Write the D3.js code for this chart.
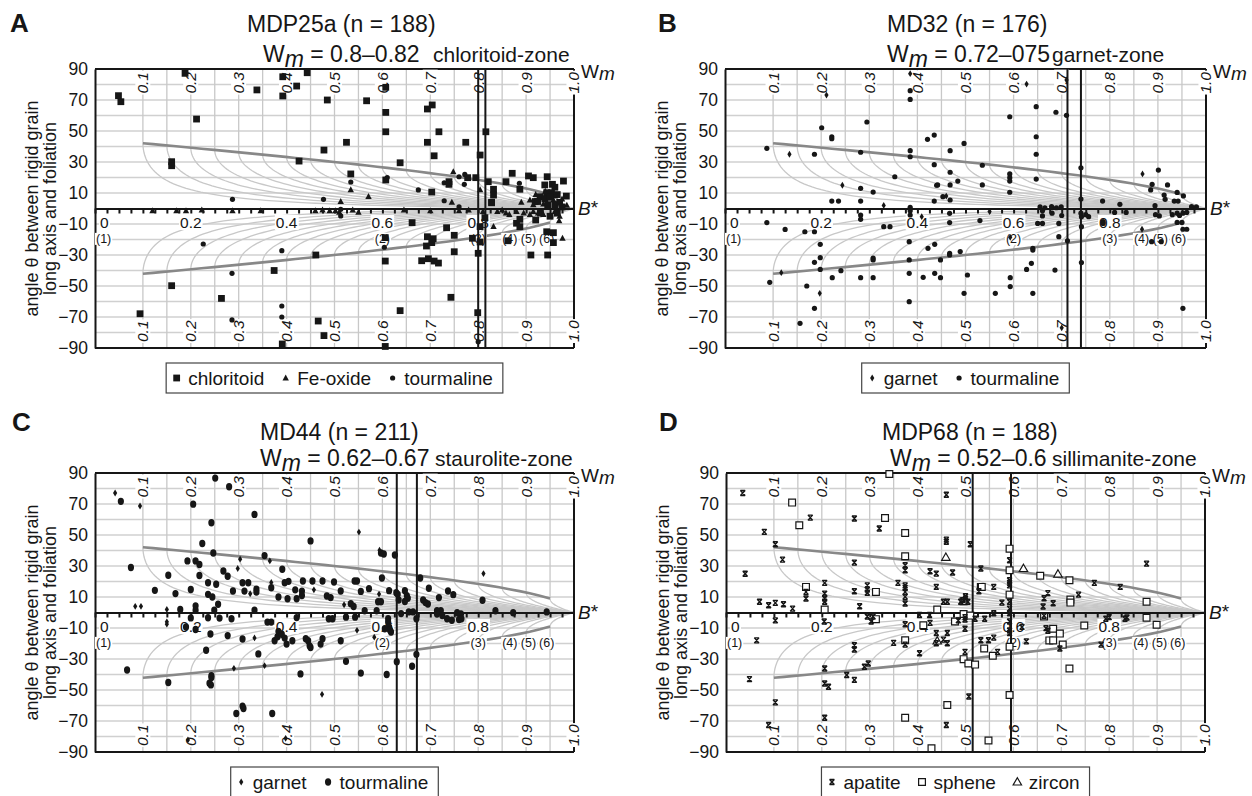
<!DOCTYPE html>
<html>
<head>
<meta charset="utf-8">
<script src="https://cdn.jsdelivr.net/npm/d3@7"></script>
<style>
  body { margin: 0; background: #fff; }
  svg { display: block; font-family: "Liberation Sans", Arial, Helvetica, sans-serif; }
</style>
</head>
<body>
<svg id="chart" width="1252" height="796"></svg>
<script>
// ---- net / axis values ----
const wmCurves = [0.1, 0.15, 0.2, 0.25, 0.3, 0.35, 0.4, 0.45, 0.5, 0.55, 0.6, 0.65, 0.7, 0.75, 0.8, 0.85, 0.9, 0.95];
const wmLabels = [0.1, 0.2, 0.3, 0.4, 0.5, 0.6, 0.7, 0.8, 0.9, 1.0];
const thetaTicks = [90, 70, 50, 30, 10, -10, -30, -50, -70, -90];
const bStarTicks = [0, 0.2, 0.4, 0.6, 0.8];
const aspectLabels = ["(1)", "(2)", "(3)", "(4)", "(5)", "(6)"];
const aspectPos = [0, 0.6, 0.8, 0.866, 0.905, 0.943];

// ---- panel texts ----
const panelLetters = ["A", "B", "C", "D"];
const sampleNames = ["MDP25a", "MD32", "MD44", "MDP68"];
const sampleN = [188, 176, 211, 188];
const wmText = ["0.8–0.82", "0.72–075", "0.62–0.67", "0.52–0.6"];
const zoneNames = ["chloritoid-zone", "garnet-zone", "staurolite-zone", "sillimanite-zone"];
const wmRanges = [[0.8, 0.815], [0.712, 0.74], [0.63, 0.672], [0.515, 0.595]];

// ---- data: [B*, theta] ----
const chloritoidA = [[0.049,72.8],[0.054,68.9],[0.188,87.2],[0.212,57.7],[0.160,30.2],[0.160,27.6],[0.338,76.5],[0.392,85],[0.392,72.6],[0.421,79],[0.443,87.6],[0.426,30.6],
  [0.485,70],[0.567,69.5],[0.607,78.2],[0.607,62],[0.607,49.5],[0.525,42.7],[0.478,37.7],[0.534,22.3],[0.607,18.4],[0.694,64.2],[0.704,66.8],[0.718,49.5],[0.694,42.7],[0.708,34],[0.774,42.7],[0.637,29.5],[0.816,49.5],[0.804,34.5],[0.739,17.3],[0.739,15.6],[0.778,19.9],[0.795,19.9],[0.703,10.6],[0.821,17.3],[0.832,12.4],[0.832,8.7],[0.858,17.3],[0.828,4],[0.871,22.7],[0.887,12.4],[0.905,21],[0.915,19.9],[0.944,20.5],[0.978,17.7],[0.939,15.2],[0.955,15.6],[0.960,13.7],[0.943,10.2],[0.953,10.2],[0.965,9],[0.984,8],[0.929,7.6],[0.939,6.3],[0.950,7.2],[0.919,4.5],[0.924,4.5],[0.945,2.5],[0.96,2.5],[0.97,4],[0.975,1],
  [0.094,-67.9],[0.160,-49.8],[0.264,-58],[0.374,-40],[0.461,-30],[0.466,-72.6],[0.478,-82],[0.391,-87.4],[0.606,-33.9],[0.606,-18.8],[0.606,-89],[0.637,-65.9],[0.662,-9.1],[0.734,-12.4],[0.75,-17.3],[0.694,-18.2],[0.706,-19.5],[0.703,-22],[0.692,-24.2],[0.75,-27.9],[0.682,-33.7],[0.696,-32.4],[0.708,-33.9],[0.717,-35.2],[0.743,-57.3],[0.799,-67.2],[0.8,-28.9],[0.804,-21.6],[0.788,-19.2],[0.804,-11.7],[0.814,-5.9],[0.828,3.7],[0.880,-9.5],[0.887,-11.7],[0.887,-7],[0.862,-20.8],[0.92,-7.4],[0.91,-30],[0.945,-30],[0.957,-22],[0.957,-15.6],[0.943,-15],[0.93,-3],[0.95,-5],[0.965,-3]];
const feOxideA = [[0.748,23.7],[0.534,12],[0.571,7.6],[0.513,4.4],[0.804,12],[0.908,5.5],[0.957,5.5],[0.974,2.9],[0.936,2.9],[0.915,2.3],
  [0.12,-1.5],[0.17,-1.5],[0.19,-1.5],[0.223,-1],[0.287,-1.5],[0.346,-1.5],[0.46,-1.5],[0.475,-1],[0.49,-1.5],[0.502,-1.5],[0.51,-2.5],[0.538,-1],[0.55,-2.5],[0.645,-1],[0.70,-1.5],[0.76,-1.5],[0.78,-1],[0.81,-2],[0.84,-2],[0.85,-1],[0.858,-3],[0.865,-4],[0.88,-2],[0.895,-3],[0.908,-4],[0.915,-2],[0.925,-3],[0.936,-4],[0.950,-4.8],[0.96,-2],[0.97,-5],
  [0.832,-11.7],[0.976,-19.2],[0.969,-8],[0.94,11],[0.96,8],[0.975,6],[0.985,2],[0.89,4],[0.745,4],[0.92,9]];
const tourmalineA = [[0.760,20.5],[0.772,22],[0.729,16.6],[0.771,15.6],[0.534,17.1],[0.675,12],[0.477,5.9],[0.729,5],[0.886,16.3],[0.513,-0.5],[0.287,5.9],[0.61,20],
  [0.226,-22.9],[0.39,-27.2],[0.286,-41.8],[0.39,-62.9],[0.39,-70],[0.286,-71.9],[0.604,-25],[0.513,-4.8],[0.8,-86],[0.76,1]];

const garnetB = [[0.134,35],[0.211,73.2],[0.244,15],[0.385,87],[0.409,-5.3],[0.282,-5.3],[0.627,80.3],[0.710,82.9],[0.868,22.3],[0.117,-41.4],[0.197,-54.7],[0.593,-18.6],[0.867,-13.4],[0.700,-77],[0.46,8],[0.55,-2],[0.33,2]];
const tourmalineB = [[0.087,38.8],[0.186,35],[0.201,52.1],[0.222,46.3],[0.222,45],[0.295,55.8],[0.282,36.3],[0.385,76],[0.385,70.4],[0.385,37.3],[0.385,33.4],[0.421,44.6],[0.435,47.4],[0.435,28.3],[0.353,20.5],[0.282,13],[0.282,4.8],[0.308,10.6],[0.222,4.8],[0.236,4.8],[0.44,15],[0.435,4.8],[0.385,0.8],[0.385,-1.4],[0.385,-4.2],
  [0.592,59.2],[0.647,65.7],[0.647,46.3],[0.647,35],[0.647,19],[0.688,62.1],[0.710,60.1],[0.497,42],[0.468,37.3],[0.468,23.4],[0.535,27.9],[0.484,17.7],[0.468,15.2],[0.442,15.2],[0.535,15.2],[0.592,22.3],[0.592,19.9],[0.592,17.7],[0.592,10.5],[0.453,7.6],[0.468,5.5],[0.740,26.3],[0.740,6.1],[0.785,4.8],[0.821,2.7],[0.901,24.8],[0.888,15.6],[0.885,12],[0.920,15.2],[0.913,8.7],[0.915,5.9],[0.940,10.4],[0.953,8.1],[0.934,4.8],[0.942,4.8],[0.894,1.8],[0.97,1.2],[0.98,1],[0.655,1],[0.665,0.5],[0.679,1.2],[0.689,0.5],[0.699,1],
  [0.087,-9.1],[0.125,-13.5],[0.166,-15],[0.186,-15],[0.198,-23.1],[0.198,-31.7],[0.186,-34.7],[0.198,-39.3],[0.170,-50],[0.186,-64.4],[0.156,-74.1],[0.093,-47.6],[0.223,-44.6],[0.241,-40.1],[0.282,-44.6],[0.308,-44.6],[0.308,-33.2],[0.308,-32],[0.282,-7],[0.282,-4.2],[0.33,-11.7],[0.343,-11.7],[0.383,-21.4],[0.383,-33.2],[0.383,-41.8],[0.383,-60.1],[0.412,-44.4],[0.422,-25.7],[0.436,-23.1],[0.448,-33.2],[0.448,-44.6],[0.436,-41.8],[0.467,-28.9],[0.467,-30],[0.489,-27.8],[0.467,-3.1],[0.467,-9.1],[0.504,-42.9],[0.497,-54.7],[0.53,-7.8],[0.562,-54.7],[0.593,-44.6],[0.593,-50.4],[0.64,-25.7],[0.64,-26.8],[0.637,-35.4],[0.627,-39.3],[0.64,-54.7],[0.65,-9.6],[0.66,-9.6],[0.66,-4.8],[0.686,-39.7],[0.694,-9.6],[0.694,-18.2],[0.712,-20.8],[0.741,-34.9],[0.741,-5.3],[0.741,-11.7],[0.756,-5.3],[0.786,-8.5],[0.786,-9.6],[0.81,-2.5],[0.834,-2.5],[0.887,-21.4],[0.907,-21.4],[0.903,-4.8],[0.93,-4],[0.94,-3],[0.952,-3],[0.96,-2.5],[0.94,-9],[0.95,-9],[0.952,-13.4],[0.96,-13.4],[0.952,-64.4],[0.66,-1.5],[0.68,-3],[0.70,-4.5],[0.74,-3],[0.75,-4],[0.895,-4],[0.945,-4.5]];

const garnetC = [[0.042,77.1],[0.094,68.7],[0.084,4],[0.096,4],[0.15,2],[0.15,-6],[0.15,-7.5],[0.303,34.4],[0.298,28.4],[0.324,12.1],[0.365,33.3],[0.368,19.4],[0.457,14.6],[0.551,51.9],[0.594,40.2],[0.593,11.9],[0.811,25.1],[0.333,-16.4],[0.354,-34.3],[0.474,-52.8],[0.547,-11.5],[0.583,-15.9],[0.194,-82.2],[0.398,-81.2],[0.29,-36],[0.52,5]];
const tourmalineC = [[0.054,71.7],[0.075,29],[0.125,14.3],[0.153,24],[0.168,12.2],[0.178,2],[0.205,69.9],[0.193,33.3],[0.21,33.3],[0.218,31],[0.2,14.8],[0.21,4.3],[0.21,1.5],[0.224,44.5],[0.218,23.9],[0.236,19.2],[0.236,11.7],[0.245,10],[0.243,57.9],[0.247,38.4],[0.251,86.7],[0.253,18.2],[0.257,5.3],[0.249,1.5],[0.268,26.8],[0.277,23.4],[0.28,81.1],[0.288,13.9],[0.308,19.2],[0.32,19.2],[0.312,13.8],[0.333,63.3],[0.337,15.1],[0.337,13.2],[0.333,1.5],[0.354,36.7],[0.368,16],[0.383,10],[0.391,27.9],[0.396,19.2],[0.404,20.1],[0.402,8.9],[0.418,14.6],[0.432,13.8],[0.432,11],[0.421,8.9],[0.45,46.2],[0.454,20.3],[0.434,20.3],[0.475,20.3],[0.499,19.7],[0.484,10.6],[0.492,9.6],[0.513,13.9],[0.534,5.6],[0.54,3.9],[0.542,20.3],[0.547,20.3],[0.555,13.6],[0.572,15.4],[0.563,1.1],[0.588,1.1],[0.597,38.4],[0.603,37.7],[0.599,22.3],[0.591,6.9],[0.597,6.9],[0.614,14.1],[0.626,37.1],[0.629,12.8],[0.632,11.7],[0.634,8.1],[0.647,14.1],[0.651,10.9],[0.653,9.2],[0.647,7.1],[0.655,0.4],[0.664,0.4],[0.639,-0.7],[0.679,22.3],[0.685,8.1],[0.69,6.4],[0.695,5.5],[0.697,15.6],[0.718,9.6],[0.722,1.1],[0.714,1.1],[0.737,13.9],[0.748,11.5],[0.756,-0.2],[0.764,-1],[0.809,7.9],[0.836,1.1],[0.873,-0.2],[0.943,0.4],
  [0.19,-9.4],[0.21,-11],[0.2,-3.5],[0.236,-3.4],[0.26,-3.6],[0.285,-4],[0.241,-13.9],[0.232,-24.4],[0.277,-14.9],[0.308,-17.1],[0.341,-26.7],[0.36,-6.2],[0.368,-6.2],[0.375,-18.2],[0.381,-15.6],[0.383,-12.3],[0.39,-14],[0.396,-16.5],[0.4,-20.4],[0.412,-18.2],[0.421,-3.3],[0.44,-16.9],[0.445,-18.2],[0.448,-21.5],[0.45,-22.6],[0.429,-39.6],[0.471,-20.4],[0.475,-16.9],[0.488,-4],[0.496,-4],[0.513,-18.2],[0.524,-31.5],[0.524,-3],[0.543,-3],[0.555,-39.1],[0.609,-40],[0.612,-4],[0.612,-6.2],[0.614,-9.4],[0.616,-11.5],[0.618,-12.6],[0.605,-10.5],[0.63,-31.7],[0.662,-34.7],[0.671,-27],[0.671,-4],[0.714,-1],[0.725,-2],[0.735,-4],[0.745,-5],[0.76,-4.5],[0.765,-4],
  [0.067,-37.1],[0.153,-45.2],[0.239,-45.6],[0.242,-46.7],[0.243,-40.7],[0.243,-42],[0.295,-65.2],[0.308,-60.4],[0.31,-61.9],[0.37,-65.2]];

const apatiteD = [[0.035,77.1],[0.04,25],[0.07,6.9],[0.089,4.7],[0.103,6.2],[0.12,5.3],[0.139,2.5],[0.08,52],[0.103,44],[0.118,34.1],[0.176,61.2],[0.167,13.3],[0.167,9],[0.206,19.1],[0.206,12.2],[0.206,9],[0.206,6.9],[0.268,60.6],[0.268,32.2],[0.268,13.7],[0.279,4],[0.295,17.5],[0.295,14.8],[0.295,12.7],[0.32,54.2],[0.359,19.1],[0.374,30.5],[0.374,27.3],[0.374,17.5],[0.374,15.9],[0.374,13.3],[0.374,10.1],[0.374,5.8],[0.426,26.6],[0.439,25.1],[0.439,16.5],[0.454,6.9],[0.462,6.9],[0.46,76],[0.46,47],[0.46,45.6],[0.473,25.8],[0.49,6.9],[0.495,8],[0.5,9],[0.5,10.5],[0.505,6.9],[0.51,44],[0.528,13.7],[0.532,28.4],[0.559,16.5],[0.576,6.4],[0.592,33.7],[0.592,20.8],[0.592,19.1],[0.592,17.5],[0.592,6.9],[0.672,12.5],[0.664,9.2],[0.662,3.9],[0.683,6],[0.736,11.5],[0.769,19.1],[0.823,16.5],[0.878,31.5],
  [0.103,-5.1],[0.064,-18],[0.049,-43],[0.103,-58],[0.089,-72.6],[0.205,-5.8],[0.206,-36.1],[0.206,-45.8],[0.214,-47.9],[0.206,-67.9],[0.268,-21.1],[0.268,-23.9],[0.252,-40.3],[0.268,-43.5],[0.289,-35],[0.297,-32.9],[0.295,-2.6],[0.303,-5.8],[0.307,-2.6],[0.35,-19.6],[0.374,-7.6],[0.374,-20.7],[0.404,-1.6],[0.425,-1.6],[0.404,-26.3],[0.426,-6.7],[0.439,-13.2],[0.439,-19.8],[0.454,-17.5],[0.462,-13.2],[0.462,-19.8],[0.46,-72.6],[0.485,-5.1],[0.499,-3],[0.499,-4.5],[0.499,-10.5],[0.499,-25.4],[0.507,-54.2],[0.52,-4],[0.54,-4],[0.532,-17.9],[0.548,-17.9],[0.559,-16.2],[0.567,-25.4],[0.559,-0.5],[0.592,2.5],[0.592,-0.5],[0.592,-5.8],[0.592,-11.6],[0.592,-13.3],[0.618,-9.3],[0.627,-18.6],[0.664,-2.1],[0.668,-10.1],[0.672,-11.8],[0.697,-23.2],[0.783,-20.7],[0.8,-3],[0.833,-4],[0.837,-3.2],[0.793,-4]];
const spheneD = [[0.138,70.9],[0.153,56.3],[0.167,16.5],[0.206,1.9],[0.313,13.3],[0.332,61],[0.341,89.4],[0.374,51.3],[0.374,36.3],[0.441,1.9],[0.496,7.3],[0.532,16.5],[0.534,16.5],[0.592,41.2],[0.592,27.3],[0.592,11.5],[0.656,23.7],[0.717,20.8],[0.719,8.4],[0.719,6.4],[0.878,6.9],
  [0.313,-4.3],[0.374,-17.9],[0.374,-67.9],[0.412,-8.2],[0.462,-59.7],[0.429,-87.6],[0.478,-5.8],[0.496,-30.1],[0.506,-32.9],[0.52,-33.6],[0.539,-23.2],[0.557,-27.9],[0.548,-82.6],[0.592,-22.1],[0.592,-53.2],[0.664,-2.6],[0.683,-10.5],[0.675,-18],[0.683,-18],[0.697,-13.6],[0.703,-20.7],[0.717,-36.1],[0.748,-8.4],[0.878,-3.4],[0.899,-7.9],[0.496,-1],[0.51,-2]];
const zirconD = [[0.459,35.6],[0.621,28.4],[0.693,24.8],[0.441,-18.4]];

// ---- panel layout ----
const panels = [
  { left: 95, top: 69, width: 479, letter: [10, 32], t1: [247, 32], t2: [263, 62], zoneX: 433, legendShift: 0,
    series: [{ data: tourmalineA, kind: "dot" }, { data: feOxideA, kind: "triangle" }, { data: chloritoidA, kind: "square" }],
    legend: [["square", "chloritoid"], ["triangle", "Fe-oxide"], ["dot", "tourmaline"]] },
  { left: 725, top: 69, width: 481, letter: [658, 32], t1: [887, 32], t2: [887, 62], zoneX: 1052, legendShift: 0,
    series: [{ data: tourmalineB, kind: "dot" }, { data: garnetB, kind: "diamond" }],
    legend: [["diamond", "garnet"], ["dot", "tourmaline"]] },
  { left: 95, top: 473, width: 479, letter: [12, 431], t1: [260, 440], t2: [260, 466], zoneX: 435, legendShift: 0,
    series: [{ data: tourmalineC, kind: "bigdot" }, { data: garnetC, kind: "diamond" }],
    legend: [["diamond", "garnet"], ["bigdot", "tourmaline"]] },
  { left: 726, top: 473, width: 479, letter: [659, 431], t1: [882, 440], t2: [890, 466], zoneX: 1052, legendShift: -10,
    series: [{ data: spheneD, kind: "opensquare" }, { data: zirconD, kind: "opentri" }, { data: apatiteD, kind: "hourglass" }],
    legend: [["hourglass", "apatite"], ["opensquare", "sphene"], ["opentri", "zircon"]] }
];
const plotHeight = 279;

const svg = d3.select("#chart");
const rad = Math.PI / 180;
const ink = "#161616";

// one Wm isoline of the rigid grain net (vertical part, then stable-angle curve)
function netCurve(wm, s) {
  const a = Math.acos(wm);
  const pts = [[wm, 90 * s]];
  for (let k = 0; k <= 60; k++) {
    const b = wm + (1 - wm) * (k / 60) ** 2;
    pts.push([b, s * (a - Math.acos(Math.min(1, wm / b))) / 2 / rad]);
  }
  return pts;
}
// envelope of maximum stable angles
function envelope(s) {
  return d3.range(0, 41).map(k => {
    const b = 0.1 + 0.85 * k / 40;
    return [b, s * Math.acos(b) / 2 / rad];
  });
}

function markerPath(kind) {
  switch (kind) {
    case "square": return "M-3.4,-3.4h6.8v6.8h-6.8Z";
    case "triangle": return "M0,-3.6L3.2,2.4H-3.2Z";
    case "dot": return "M0,-2.6A2.6,2.6 0 1 1 0,2.6A2.6,2.6 0 1 1 0,-2.6Z";
    case "bigdot": return "M0,-3.7A3.1,3.7 0 1 1 0,3.7A3.1,3.7 0 1 1 0,-3.7Z";
    case "diamond": return "M0,-3.4L2.1,0L0,3.4L-2.1,0Z";
    case "hourglass": return "M-2.3,-2.5H2.3L-2.3,2.5H2.3Z";
    case "opensquare": return "M-3.4,-3.4h6.8v6.8h-6.8Z";
    case "opentri": return "M0,-4.3L4.2,3H-4.2Z";
  }
}
function styleMarker(sel, kind) {
  if (kind === "hourglass") {
    sel.attr("fill", "none").attr("stroke", ink).attr("stroke-width", 1.4).attr("stroke-linejoin", "bevel");
  } else if (kind === "opensquare" || kind === "opentri") {
    sel.attr("fill", "#fff").attr("stroke", ink).attr("stroke-width", 1.2);
  } else {
    sel.attr("fill", ink).attr("stroke", "none");
  }
}

// text with a white box behind it
function boxedLabel(parent, transform, str, anchor, size, italic) {
  const lg = parent.append("g").attr("transform", transform);
  const t = lg.append("text")
    .attr("text-anchor", anchor)
    .attr("font-size", size)
    .attr("font-style", italic ? "italic" : null)
    .attr("dy", "0.35em")
    .attr("fill", ink)
    .text(str);
  const bb = t.node().getBBox();
  lg.insert("rect", "text")
    .attr("x", bb.x - 1).attr("y", bb.y + 1)
    .attr("width", bb.width + 2).attr("height", bb.height - 2)
    .attr("fill", "#fff");
  return lg;
}

function drawPanel(p, i) {
  const x = d3.scaleLinear().domain([0, 1]).range([p.left, p.left + p.width]);
  const y = d3.scaleLinear().domain([-90, 90]).range([p.top + plotHeight, p.top]);
  const g = svg.append("g");
  const line = d3.line().x(d => x(d[0])).y(d => y(d[1]));

  // horizontal grid every 10 degrees
  g.append("g").selectAll("line")
    .data(d3.range(-80, 81, 10).filter(v => v !== 0))
    .join("line")
      .attr("x1", x(0)).attr("x2", x(1))
      .attr("y1", d => y(d)).attr("y2", d => y(d))
      .attr("stroke", "#d0d0d0").attr("stroke-width", 1.6);

  // Wm isolines
  const curves = [];
  wmCurves.forEach(wm => { curves.push(netCurve(wm, 1)); curves.push(netCurve(wm, -1)); });
  g.append("g").selectAll("path").data(curves).join("path")
    .attr("d", line).attr("fill", "none")
    .attr("stroke", "#c8c8c8").attr("stroke-width", 1.3);

  // envelope lines
  g.append("g").selectAll("path").data([envelope(1), envelope(-1)]).join("path")
    .attr("d", line).attr("fill", "none")
    .attr("stroke", "#888").attr("stroke-width", 2.6);

  // frame
  const frame = g.append("g").attr("stroke", ink).attr("stroke-width", 2);
  frame.append("line").attr("x1", x(0)).attr("x2", x(1)).attr("y1", y(90)).attr("y2", y(90));
  frame.append("line").attr("x1", x(0)).attr("x2", x(1)).attr("y1", y(-90)).attr("y2", y(-90));
  frame.append("line").attr("x1", x(1)).attr("x2", x(1)).attr("y1", y(90)).attr("y2", y(-90));

  // left theta axis
  g.append("g").attr("transform", `translate(${x(0)},0)`)
    .call(d3.axisLeft(y).tickValues(thetaTicks).tickSize(0).tickSizeOuter(0).tickPadding(7))
    .call(a => a.select(".domain").attr("stroke", ink).attr("stroke-width", 2))
    .call(a => a.selectAll(".tick text").attr("font-size", 17.5).attr("fill", ink)
      .attr("font-family", "'Liberation Sans', Arial, sans-serif"));

  // B* axis along theta = 0
  g.append("g").attr("transform", `translate(0,${y(0)})`)
    .call(d3.axisBottom(x).tickValues(d3.range(0, 0.99, 0.025)).tickSize(5).tickSizeOuter(0).tickFormat(""))
    .call(a => a.select(".domain").attr("stroke", ink).attr("stroke-width", 2))
    .call(a => a.selectAll(".tick line").attr("stroke", ink).attr("stroke-width", 2));

  // Wm labels top and bottom
  wmLabels.forEach(v => {
    boxedLabel(g, `translate(${x(v)},${y(90) + 3}) rotate(-90)`, v.toFixed(1), "end", 15.5, true);
    boxedLabel(g, `translate(${x(v)},${y(-90) - 6}) rotate(-90)`, v.toFixed(1), "start", 15.5, true);
  });

  // B* tick labels and aspect ratio labels
  bStarTicks.forEach(v => {
    boxedLabel(g, `translate(${v === 0 ? x(v) + 5 : x(v)},${y(0) + 14})`, v === 0 ? "0" : v.toFixed(1), v === 0 ? "start" : "middle", 15.5, false);
  });
  aspectLabels.forEach((s, k) => {
    boxedLabel(g, `translate(${k === 0 ? x(aspectPos[k]) + 1 : x(aspectPos[k])},${y(0) + 30})`, s, k === 0 ? "start" : "middle", 12.5, false);
  });

  // axis names
  const wmLab = g.append("text").attr("x", x(1) + 7).attr("y", y(90) + 9)
    .attr("font-size", 19).attr("fill", ink);
  wmLab.append("tspan").text("W");
  wmLab.append("tspan").attr("font-style", "italic").attr("dy", 2).text("m");
  const bLab = g.append("text").attr("x", x(1) + 4).attr("y", y(0) + 6)
    .attr("font-size", 19).attr("fill", ink);
  bLab.append("tspan").attr("font-style", "italic").text("B");
  bLab.append("tspan").attr("dy", -1).text("*");

  const yMid = y(0);
  g.append("text").attr("transform", `translate(${x(0) - 57},${yMid}) rotate(-90)`)
    .attr("text-anchor", "middle").attr("font-size", 18).attr("fill", ink)
    .text("angle θ between rigid grain");
  g.append("text").attr("transform", `translate(${x(0) - 39},${yMid}) rotate(-90)`)
    .attr("text-anchor", "middle").attr("font-size", 18).attr("fill", ink)
    .text("long axis and foliation");

  // titles
  g.append("text").attr("x", p.letter[0]).attr("y", p.letter[1])
    .attr("font-size", 26).attr("font-weight", "bold").attr("fill", ink).text(panelLetters[i]);
  g.append("text").attr("x", p.t1[0]).attr("y", p.t1[1])
    .attr("font-size", 23).attr("fill", ink).text(`${sampleNames[i]} (n = ${sampleN[i]})`);
  const t2 = g.append("text").attr("x", p.t2[0]).attr("y", p.t2[1]).attr("font-size", 23).attr("fill", ink);
  t2.append("tspan").text("W");
  t2.append("tspan").attr("font-style", "italic").attr("dy", 5).text("m");
  t2.append("tspan").attr("dy", -5).text(" = " + wmText[i]);
  g.append("text").attr("x", p.zoneX).attr("y", p.t2[1])
    .attr("font-size", 21).attr("fill", ink).text(zoneNames[i]);

  // Wm range lines
  g.append("g").selectAll("line").data(wmRanges[i]).join("line")
    .attr("x1", d => x(d)).attr("x2", d => x(d))
    .attr("y1", y(90)).attr("y2", y(-90))
    .attr("stroke", ink).attr("stroke-width", 2);

  // data points
  p.series.forEach(s => {
    g.append("g").selectAll("path").data(s.data).join("path")
      .attr("transform", d => `translate(${x(d[0])},${y(d[1])})`)
      .attr("d", markerPath(s.kind))
      .call(sel => styleMarker(sel, s.kind));
  });

  // legend
  const lg = g.append("g");
  const box = lg.append("rect").attr("fill", "#fff").attr("stroke", "#444").attr("stroke-width", 1.2);
  let cx = 7;
  p.legend.forEach(([kind, name]) => {
    lg.append("path").attr("transform", `translate(${cx + 3.5},0)`)
      .attr("d", markerPath(kind)).call(sel => styleMarker(sel, kind));
    cx += 15;
    const t = lg.append("text").attr("x", cx).attr("y", 7).attr("font-size", 19).attr("fill", ink).text(name);
    cx += t.node().getComputedTextLength() + 18;
  });
  const w = cx - 18 + 10;
  box.attr("x", 0).attr("y", -15).attr("width", w).attr("height", 30);
  const midX = (x(0) + x(1)) / 2 + p.legendShift;
  lg.attr("transform", `translate(${midX - w / 2},${y(-90) + 30})`);
}

panels.forEach(drawPanel);
</script>
</body>
</html>
